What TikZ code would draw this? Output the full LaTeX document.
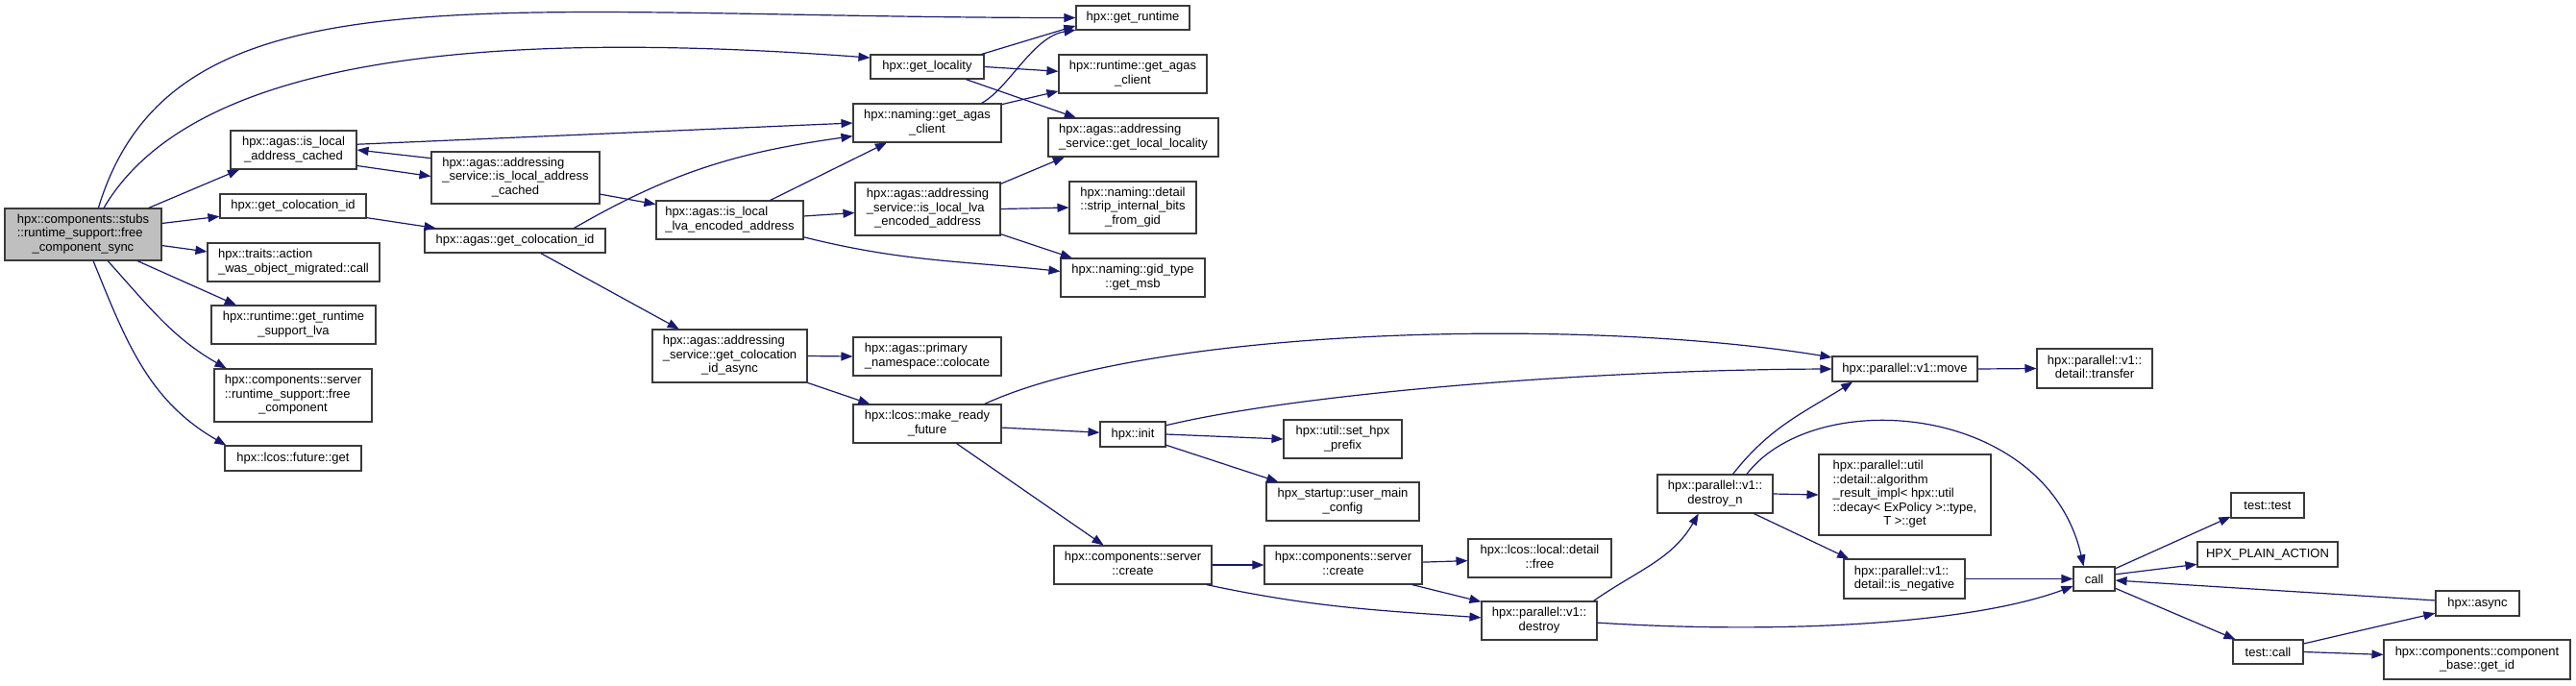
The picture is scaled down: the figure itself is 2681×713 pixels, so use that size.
\documentclass[tikz,border=0pt]{standalone}
\usepackage{fontspec}
\setmainfont{Liberation Sans}
\usetikzlibrary{arrows.meta}
\definecolor{edgeblue}{HTML}{191970}
\definecolor{rootgray}{HTML}{BFBFBF}
\definecolor{boxline}{HTML}{3A3A3A}
\newcommand{\fnfont}{\fontsize{13}{14.5}\selectfont}
% left aligned lines, last line centred
\newcommand{\cl}[2]{\begin{tabular}{@{}l@{}}#1\\\multicolumn{1}{@{}c@{}}{#2}\end{tabular}}
\tikzset{
  fn/.style={rectangle, draw=boxline, fill=white, line width=1.1pt, inner sep=0pt,
             align=center, font=\fnfont},
  rootfn/.style={fn, fill=rootgray},
  sz/.style 2 args={minimum width=#1pt, minimum height=#2pt},
  calls/.style={-{Triangle[length=12pt,width=9pt]}, draw=edgeblue, line width=1.2pt}
}
\begin{document}
\begin{tikzpicture}[x=1pt, y=-1pt]
  \path[fill=white, use as bounding box] (0,0) rectangle (2681,713);
  % first rank
  \node[rootfn, sz={163}{54}] (root) at (86.5,244) {\cl{hpx::components::stubs\\::runtime\_support::free}{\_component\_sync}};
  \node[fn, sz={131}{40}] (ilac) at (305.5,156) {\cl{hpx::agas::is\_local}{\_address\_cached}};
  \node[fn, sz={152}{25}] (getcol) at (305,214.5) {hpx::get\_colocation\_id};
  \node[fn, sz={179}{40}] (traits) at (305.5,273) {\cl{hpx::traits::action}{\_was\_object\_migrated::call}};
  \node[fn, sz={171}{40}] (lva) at (305.5,338) {\cl{hpx::runtime::get\_runtime}{\_support\_lva}};
  \node[fn, sz={164}{55}] (freecomp) at (305,411.5) {\cl{hpx::components::server\\::runtime\_support::free}{\_component}};
  \node[fn, sz={142}{26}] (futget) at (305,477) {hpx::lcos::future::get};
  % agas
  \node[fn, sz={175}{54}] (asilac) at (536.5,185) {\cl{hpx::agas::addressing\\\_service::is\_local\_address}{\_cached}};
  \node[fn, sz={188}{25}] (agasgetcol) at (536,250.5) {hpx::agas::get\_colocation\_id};
  \node[fn, sz={153}{40}] (agasilva) at (759.5,229) {\cl{hpx::agas::is\_local}{\_lva\_encoded\_address}};
  \node[fn, sz={161}{55}] (colasync) at (759.5,370.5) {\cl{hpx::agas::addressing\\\_service::get\_colocation}{\_id\_async}};
  \node[fn, sz={118}{25}] (getloc) at (965,69.5) {hpx::get\_locality};
  \node[fn, sz={154}{40}] (nagas) at (965,128) {\cl{hpx::naming::get\_agas}{\_client}};
  \node[fn, sz={151}{55}] (asilva) at (965.5,217.5) {\cl{hpx::agas::addressing\\\_service::is\_local\_lva}{\_encoded\_address}};
  \node[fn, sz={154}{40}] (colocate) at (965,371) {\cl{hpx::agas::primary}{\_namespace::colocate}};
  \node[fn, sz={154}{40}] (mrf) at (965,441) {\cl{hpx::lcos::make\_ready}{\_future}};
  % fifth rank
  \node[fn, sz={118}{25}] (getrt) at (1179,18.5) {hpx::get\_runtime};
  \node[fn, sz={154}{40}] (rtagas) at (1179,77) {\cl{hpx::runtime::get\_agas}{\_client}};
  \node[fn, sz={177}{40}] (locloc) at (1179.5,143) {\cl{hpx::agas::addressing}{\_service::get\_local\_locality}};
  \node[fn, sz={132}{54}] (strip) at (1179,216) {\cl{hpx::naming::detail\\::strip\_internal\_bits}{\_from\_gid}};
  \node[fn, sz={150}{40}] (msb) at (1179,289) {\cl{hpx::naming::gid\_type}{::get\_msb}};
  \node[fn, sz={68}{26}] (init) at (1179,452) {hpx::init};
  \node[fn, sz={164}{40}] (create1) at (1179,588) {\cl{hpx::components::server}{::create}};
  \node[fn, sz={123}{40}] (prefix) at (1397.5,457) {\cl{hpx::util::set\_hpx}{\_prefix}};
  \node[fn, sz={159}{40}] (usermain) at (1397.5,522) {\cl{hpx\_startup::user\_main}{\_config}};
  \node[fn, sz={164}{40}] (create2) at (1398,588) {\cl{hpx::components::server}{::create}};
  \node[fn, sz={149}{40}] (lfree) at (1602.5,581) {\cl{hpx::lcos::local::detail}{::free}};
  \node[fn, sz={120}{40}] (destroy) at (1602,646) {\cl{hpx::parallel::v1::}{destroy}};
  \node[fn, sz={120}{40}] (destroyn) at (1785,514) {\cl{hpx::parallel::v1::}{destroy\_n}};
  % parallel algorithms
  \node[fn, sz={151}{26}] (move) at (1982.5,384) {hpx::parallel::v1::move};
  \node[fn, sz={120}{41}] (transfer) at (2180,383.5) {\cl{hpx::parallel::v1::}{detail::transfer}};
  \node[fn, sz={179}{84}] (algo) at (1982.5,515) {\cl{hpx::parallel::util\\::detail::algorithm\\\_result\_impl< hpx::util\\::decay< ExPolicy >::type,}{T >::get}};
  \node[fn, sz={126}{41}] (isneg) at (1982,602.5) {\cl{hpx::parallel::v1::}{detail::is\_negative}};
  \node[fn, sz={43}{25}] (call) at (2179.5,602.5) {call};
  \node[fn, sz={76}{26}] (ttest) at (2360,526) {test::test};
  \node[fn, sz={146}{26}] (plain) at (2360,577) {HPX\_PLAIN\_ACTION};
  \node[fn, sz={73}{25}] (tcall) at (2360.5,678.5) {test::call};
  \node[fn, sz={87}{26}] (async) at (2578.5,628) {hpx::async};
  \node[fn, sz={194}{41}] (getid) at (2578,686.5) {\cl{hpx::components::component}{\_base::get\_id}};
  % calls from the root
  \draw[calls] (root.60) .. controls (180,-40) and (500,18) .. (getrt.west);
  \draw[calls] (root.52) .. controls (200,60) and (500,30) .. (getloc.171);
  \draw[calls] (root.22) -- (ilac.200);
  \draw[calls] (root.8) -- (getcol.188);
  \draw[calls] (root.352) -- (traits.173);
  \draw[calls] (root.334) -- (lva.161);
  \draw[calls] (root.313) to[out=-48,in=150] (freecomp.158);
  \draw[calls] (root.291) to[out=-68,in=150] (futget.169);
  % agas
  \draw[calls] (ilac.346) -- (asilac.179);
  \draw[calls] (asilac.167) -- (ilac.east);
  \draw[calls] (ilac.5) -- (nagas.west);
  \draw[calls] (asilac.349) -- (agasilva.168);
  \draw[calls] (getcol.351) -- (agasgetcol.171);
  \draw[calls] (agasgetcol.12) to[out=30,in=188] (nagas.190);
  \draw[calls] (agasgetcol.334) -- (colasync.152);
  \draw[calls] (agasilva.26) -- (nagas.206);
  \draw[calls] (agasilva.3) -- (asilva.183);
  \draw[calls] (agasilva.347) to[out=-14,in=174] (msb.175);
  \draw[calls] (asilva.19) -- (locloc.196);
  \draw[calls] (asilva.east) -- (strip.west);
  \draw[calls] (asilva.341) -- (msb.162);
  \draw[calls] (getloc.13) -- (getrt.188);
  \draw[calls] (getloc.east) -- (rtagas.178);
  \draw[calls] (getloc.342) -- (locloc.161);
  \draw[calls] (nagas.20) .. controls (1050,92) and (1075,38) .. (getrt.192);
  \draw[calls] (nagas.14) -- (rtagas.193);
  \draw[calls] (colasync.east) -- (colocate.west);
  \draw[calls] (colasync.341) -- (mrf.161);
  % futures and components
  \draw[calls] (mrf.19) .. controls (1200,340) and (1650,330) .. (move.171);
  \draw[calls] (mrf.357) -- (init.177);
  \draw[calls] (mrf.326) -- (create1.146);
  \draw[calls] (init.15) .. controls (1350,410) and (1650,385) .. (move.west);
  \draw[calls] (init.east) -- (prefix.west);
  \draw[calls] (init.342) -- (usermain.163);
  \draw[calls] (create1.east) -- (create2.west);
  \draw[calls] (create1.345) to[out=-12,in=176] (destroy.177);
  \draw[calls] (create2.2) -- (lfree.182);
  \draw[calls] (create2.344) -- (destroy.162);
  \draw[calls] (destroy.20) to[out=35,in=240] (destroyn.230);
  \draw[calls] (destroy.358) .. controls (1850,660) and (2050,650) .. (call.199);
  \draw[calls] (destroyn.48) to[out=52,in=212] (move.194);
  \draw[calls] (destroyn.32) .. controls (1890,400) and (2130,420) .. (call.130);
  \draw[calls] (destroyn.east) -- (algo.west);
  \draw[calls] (destroyn.333) -- (isneg.160);
  \draw[calls] (isneg.east) -- (call.west);
  \draw[calls] (move.east) -- (transfer.west);
  \draw[calls] (call.26) -- (ttest.197);
  \draw[calls] (call.12) -- (plain.188);
  \draw[calls] (call.336) -- (tcall.159);
  \draw[calls] (async.176) -- (call.356);
  \draw[calls] (tcall.13) -- (async.193);
  \draw[calls] (tcall.east) -- (getid.177);
\end{tikzpicture}
\end{document}
